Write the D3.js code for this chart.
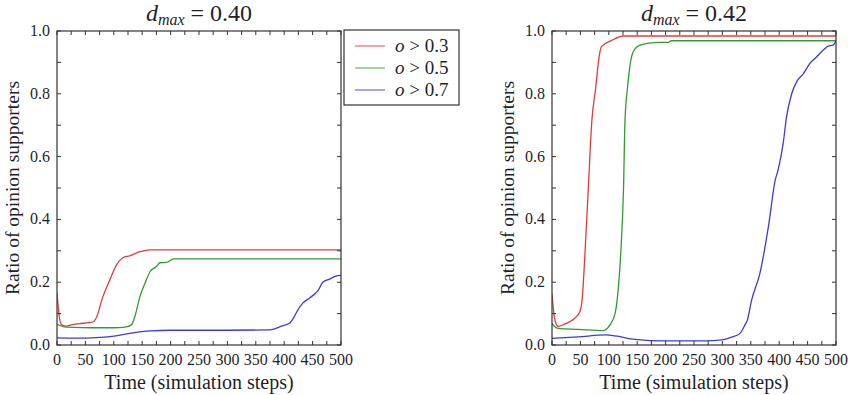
<!DOCTYPE html>
<html>
<head>
<meta charset="utf-8">
<script src="https://cdn.jsdelivr.net/npm/d3@7/dist/d3.min.js"></script>
<style>
  html, body { margin: 0; padding: 0; background: #fff; }
</style>
</head>
<body>
<svg id="chart" width="851" height="395" font-family="Liberation Serif"></svg>
<script>
// ---- Data ----
const xTickValues = [0, 50, 100, 150, 200, 250, 300, 350, 400, 450, 500];
const yTickValues = [0.0, 0.2, 0.4, 0.6, 0.8, 1.0];
const seriesNames = ["o > 0.3", "o > 0.5", "o > 0.7"];
const panelTitles = ["0.40", "0.42"];

// d_max = 0.40
const leftRedT   = [0, 4, 8, 17, 25, 40, 55, 64, 70, 80, 93, 105, 116, 128, 146, 164, 200, 500];
const leftRedV   = [0.166, 0.09, 0.064, 0.060, 0.064, 0.068, 0.071, 0.074, 0.09, 0.15, 0.207, 0.256, 0.278, 0.284, 0.297, 0.303, 0.303, 0.303];
const leftGreenT = [0, 5, 12, 30, 60, 100, 120, 131, 137, 146, 155, 164, 175, 181, 193, 205, 500];
const leftGreenV = [0.067, 0.062, 0.058, 0.056, 0.055, 0.055, 0.057, 0.064, 0.09, 0.154, 0.197, 0.234, 0.25, 0.262, 0.263, 0.274, 0.274];
const leftBlueT  = [0, 50, 76, 100, 128, 164, 200, 300, 370, 380, 395, 410, 416, 422, 433, 445, 455, 460, 468, 480, 492, 500];
const leftBlueV  = [0.023, 0.022, 0.024, 0.028, 0.037, 0.045, 0.047, 0.047, 0.048, 0.05, 0.06, 0.07, 0.085, 0.105, 0.134, 0.15, 0.165, 0.175, 0.2, 0.21, 0.22, 0.222];

// d_max = 0.42
const rightRedT   = [0, 4, 8, 11, 23, 40, 49, 53, 58, 64, 70, 77, 82, 87, 105, 126, 500];
const rightRedV   = [0.165, 0.09, 0.064, 0.059, 0.067, 0.085, 0.106, 0.143, 0.29, 0.5, 0.71, 0.82, 0.905, 0.95, 0.97, 0.984, 0.984];
const rightGreenT = [0, 5, 11, 46, 90, 102, 111, 117, 121, 126, 128.5, 133, 137, 143, 155, 181, 205, 210, 500];
const rightGreenV = [0.069, 0.058, 0.053, 0.05, 0.046, 0.064, 0.1, 0.186, 0.29, 0.504, 0.716, 0.82, 0.886, 0.934, 0.955, 0.963, 0.964, 0.969, 0.969];
const rightBlueT  = [0, 46, 96, 111, 146, 199, 269, 299, 315, 331, 340, 344, 351, 366, 381, 393, 398, 407, 413, 422, 431, 443, 454, 466, 478, 486, 495, 500];
const rightBlueV  = [0.021, 0.026, 0.032, 0.029, 0.018, 0.013, 0.013, 0.016, 0.024, 0.037, 0.065, 0.08, 0.14, 0.228, 0.377, 0.525, 0.557, 0.642, 0.727, 0.80, 0.839, 0.865, 0.897, 0.918, 0.94, 0.952, 0.955, 0.969];

const colors = ["#e8383a", "#2f9b33", "#3a3ae0"];
const textColor = "#1f1f2a";

const panels = [
  { title: panelTitles[0], x0: 57, x1: 341, series: [[leftRedT, leftRedV], [leftGreenT, leftGreenV], [leftBlueT, leftBlueV]] },
  { title: panelTitles[1], x0: 552, x1: 836, series: [[rightRedT, rightRedV], [rightGreenT, rightGreenV], [rightBlueT, rightBlueV]] }
];
const yTop = 31, yBot = 345;

const svg = d3.select("#chart");

panels.forEach(p => {
  const x = d3.scaleLinear().domain([0, 500]).range([p.x0, p.x1]);
  const y = d3.scaleLinear().domain([0, 1]).range([yBot, yTop]);
  const g = svg.append("g");

  const clipId = "clip" + p.x0;
  svg.append("clipPath").attr("id", clipId).append("rect")
    .attr("x", p.x0).attr("y", yTop).attr("width", p.x1 - p.x0).attr("height", yBot - yTop);
  const line = d3.line().x(d => x(d[0])).y(d => y(d[1])).curve(d3.curveMonotoneX);
  const lg = g.append("g").attr("clip-path", `url(#${clipId})`);
  p.series.forEach((s, i) => {
    const pts = s[0].map((t, k) => [t, s[1][k]]);
    lg.append("path").attr("d", line(pts)).attr("fill", "none")
      .attr("stroke", colors[i]).attr("stroke-width", 1.3).attr("stroke-linejoin", "round");
  });

  const minorX = d3.range(0, 501, 25);
  const minorY = d3.range(0, 1.0001, 0.1);
  const tickLen = 4;
  const tg = g.append("g").attr("stroke", "#333").attr("stroke-width", 1);
  minorX.forEach(v => {
    tg.append("line").attr("x1", x(v)).attr("x2", x(v)).attr("y1", yBot).attr("y2", yBot - tickLen);
    tg.append("line").attr("x1", x(v)).attr("x2", x(v)).attr("y1", yTop).attr("y2", yTop + tickLen);
  });
  minorY.forEach(v => {
    tg.append("line").attr("x1", p.x0).attr("x2", p.x0 + tickLen).attr("y1", y(v)).attr("y2", y(v));
    tg.append("line").attr("x1", p.x1).attr("x2", p.x1 - tickLen).attr("y1", y(v)).attr("y2", y(v));
  });

  g.append("rect").attr("x", p.x0).attr("y", yTop).attr("width", p.x1 - p.x0).attr("height", yBot - yTop)
    .attr("fill", "none").attr("stroke", "#333").attr("stroke-width", 1.2);

  xTickValues.forEach(v => {
    g.append("text").attr("x", x(v)).attr("y", yBot + 20).attr("text-anchor", "middle")
      .attr("font-size", 16).attr("fill", textColor).text(v);
  });
  yTickValues.forEach(v => {
    g.append("text").attr("x", p.x0 - 7).attr("y", y(v) + 5).attr("text-anchor", "end")
      .attr("font-size", 16).attr("fill", textColor).text(d3.format(".1f")(v));
  });

  const cx = (p.x0 + p.x1) / 2;
  g.append("text").attr("x", cx).attr("y", 389).attr("text-anchor", "middle")
    .attr("font-size", 20).attr("fill", textColor).text("Time (simulation steps)");
  g.append("text").attr("transform", `translate(${p.x0 - 38},${(yTop + yBot) / 2}) rotate(-90)`)
    .attr("text-anchor", "middle").attr("font-size", 19.5).attr("fill", textColor).text("Ratio of opinion supporters");

  const t = g.append("text").attr("x", cx).attr("y", 21).attr("text-anchor", "middle")
    .attr("font-size", 24).attr("fill", textColor);
  t.append("tspan").attr("font-style", "italic").text("d");
  t.append("tspan").attr("font-style", "italic").attr("font-size", 16).attr("dy", 4).text("max");
  t.append("tspan").attr("dy", -4).text(" = " + p.title);
});

const lgX = 344, lgY = 30, lgW = 115, lgH = 75;
const leg = svg.append("g");
leg.append("rect").attr("x", lgX).attr("y", lgY).attr("width", lgW).attr("height", lgH)
  .attr("fill", "#fff").attr("stroke", "#333").attr("stroke-width", 1.2);
seriesNames.forEach((name, i) => {
  const yy = lgY + 16 + i * 22;
  leg.append("line").attr("x1", lgX + 11).attr("x2", lgX + 41).attr("y1", yy).attr("y2", yy)
    .attr("stroke", colors[i]).attr("stroke-width", 1.2).attr("opacity", 0.75);
  const parts = name.split(" ");
  const tx = leg.append("text").attr("x", lgX + 51).attr("y", yy + 6).attr("font-size", 19).attr("fill", textColor);
  tx.append("tspan").attr("font-style", "italic").text(parts[0]);
  tx.append("tspan").text(" " + parts[1] + " " + parts[2]);
});
</script>
</body>
</html>
